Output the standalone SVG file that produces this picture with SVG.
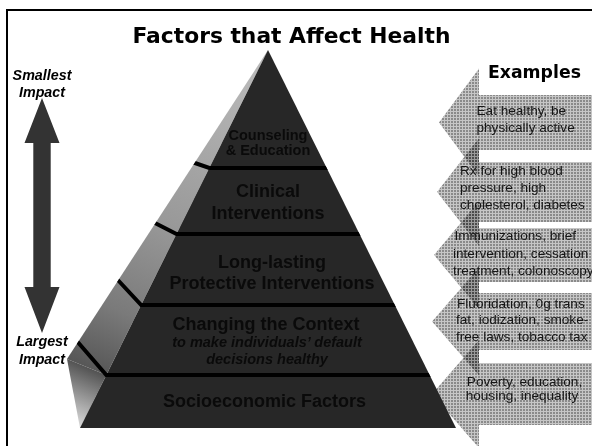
<svg xmlns="http://www.w3.org/2000/svg" width="592" height="446" viewBox="0 0 592 446">
<style>
.title{font-family:"DejaVu Sans","Liberation Sans",sans-serif;font-weight:bold;fill:#000}
.side{font-family:"Liberation Sans",Arial,sans-serif;font-weight:bold;font-style:italic;font-size:14.3px;fill:#000;text-anchor:middle}
.lvl{font-family:"Liberation Sans",Arial,sans-serif;font-weight:bold;font-size:18px;fill:#0a0a0a;text-anchor:middle}
.lvls{font-family:"Liberation Sans",Arial,sans-serif;font-weight:bold;font-size:14.5px;fill:#0a0a0a;text-anchor:middle}
.lvli{font-family:"Liberation Sans",Arial,sans-serif;font-weight:bold;font-style:italic;font-size:14.5px;fill:#0a0a0a;text-anchor:middle}
.ex{font-family:"Liberation Sans",Arial,sans-serif;font-size:13.6px;fill:#151515}
.arrow{fill:url(#chk);mix-blend-mode:multiply}
.sep{fill:none;stroke:#000;stroke-width:4;stroke-linejoin:miter}
</style>
<defs>
<pattern id="chk" width="3" height="3" patternUnits="userSpaceOnUse">
<rect width="3" height="3" fill="#8a8a8a"/>
<rect width="3" height="1" fill="#c6c6c6"/>
<rect width="1" height="3" fill="#c6c6c6"/>
</pattern>
<linearGradient id="gA" gradientUnits="userSpaceOnUse" x1="220" y1="60" x2="85" y2="370">
<stop offset="0" stop-color="#b8b8b8"/>
<stop offset="0.5" stop-color="#999999"/>
<stop offset="0.8" stop-color="#7a7a7a"/>
<stop offset="1" stop-color="#555555"/>
</linearGradient>
<linearGradient id="gB" gradientUnits="userSpaceOnUse" x1="98" y1="368" x2="72" y2="428">
<stop offset="0" stop-color="#4a4a4a"/>
<stop offset="1" stop-color="#e4e4e4"/>
</linearGradient>
<clipPath id="pyrClip">
<polygon points="268,50 67,359 80,428 456,428"/>
</clipPath>
</defs>

<rect x="0" y="0" width="592" height="446" fill="#fff"/>
<rect id="frame" x="7" y="10" width="600" height="450" fill="none" stroke="#000" stroke-width="2"/>

<g id="title">
<text class="title" x="291.5" y="42.5" font-size="21.8" text-anchor="middle">Factors that Affect Health</text>
</g>

<g id="examples">
<g id="ex1">
<path class="arrow" d="M600,95 H479 V68.5 L439,122.5 L479,176.5 V150 H600 Z"/>
</g>
<g id="ex2">
<path class="arrow" d="M600,162 H479 V138 L437,192 L479,246 V222 H600 Z"/>
</g>
<g id="ex3">
<path class="arrow" d="M600,228 H479 V201 L434,255 L479,309 V282 H600 Z"/>
</g>
<g id="ex4">
<path class="arrow" d="M600,293 H479 V267.5 L432,321.5 L479,375.5 V350 H600 Z"/>
</g>
<g id="ex5">
<path class="arrow" d="M600,363 H479 V340 L432,394 L479,448 V425 H600 Z"/>
</g>
<g id="ex-text">
<text class="ex" x="476.5" y="115">Eat healthy, be</text>
<text class="ex" x="476.5" y="132">physically active</text>
<text class="ex" x="460" y="175">Rx for high blood</text>
<text class="ex" x="460" y="192">pressure, high</text>
<text class="ex" x="460" y="208.5">cholesterol, diabetes</text>
<text class="ex" x="454.5" y="240">Immunizations, brief</text>
<text class="ex" x="453" y="257.5">intervention, cessation</text>
<text class="ex" x="453" y="274.5">treatment, colonoscopy</text>
<text class="ex" x="457" y="307.5">Fluoridation, 0g trans</text>
<text class="ex" x="456" y="324">fat, iodization, smoke-</text>
<text class="ex" x="456" y="340.5">free laws, tobacco tax</text>
<text class="ex" x="524.5" y="385.5" text-anchor="middle">Poverty, education,</text>
<text class="ex" x="522" y="399.5" text-anchor="middle">housing, inequality</text>
</g>
<g id="examples-heading">
<text class="title" x="488" y="78" font-size="17.3">Examples</text>
</g>
</g>

<g id="pyramid">
<polygon id="face-left" points="268,50 67,359 106.3,375" fill="url(#gA)"/>
<polygon id="face-bottom" points="67,359 106.3,375 80,428" fill="url(#gB)"/>
<polygon id="face-front" points="268,50 80,428 456,428" fill="#272727"/>
<g clip-path="url(#pyrClip)">
<polyline class="sep" points="192,162 209.3,168 330,168"/>
<polyline class="sep" points="153,222 176.5,234 362,234"/>
<polyline class="sep" points="116,278 141.2,305 398,305"/>
<polyline class="sep" points="76,340 106.3,375 433,375"/>
</g>
<g id="layer-counseling">
<text class="lvls" x="268" y="140">Counseling</text>
<text class="lvls" x="268" y="155">&amp; Education</text>
</g>
<g id="layer-clinical">
<text class="lvl" x="268" y="197">Clinical</text>
<text class="lvl" x="268" y="219">Interventions</text>
</g>
<g id="layer-protective">
<text class="lvl" x="272" y="268">Long-lasting</text>
<text class="lvl" x="272" y="289">Protective Interventions</text>
</g>
<g id="layer-context">
<text class="lvl" x="266" y="330">Changing the Context</text>
<text class="lvli" x="267" y="347">to make individuals’ default</text>
<text class="lvli" x="267" y="364">decisions healthy</text>
</g>
<g id="layer-socio">
<text class="lvl" x="264.5" y="407">Socioeconomic Factors</text>
</g>
</g>

<g id="impact-labels">
<text class="side" x="42" y="80">Smallest</text>
<text class="side" x="42" y="97">Impact</text>
<text class="side" x="42" y="346">Largest</text>
<text class="side" x="42" y="364">Impact</text>
</g>

<g id="connectors">
<polygon points="42,98 59.5,143 50.7,143 50.7,287 59.5,287 42,333 24.5,287 33.3,287 33.3,143 24.5,143" fill="#333"/>
</g>
</svg>
